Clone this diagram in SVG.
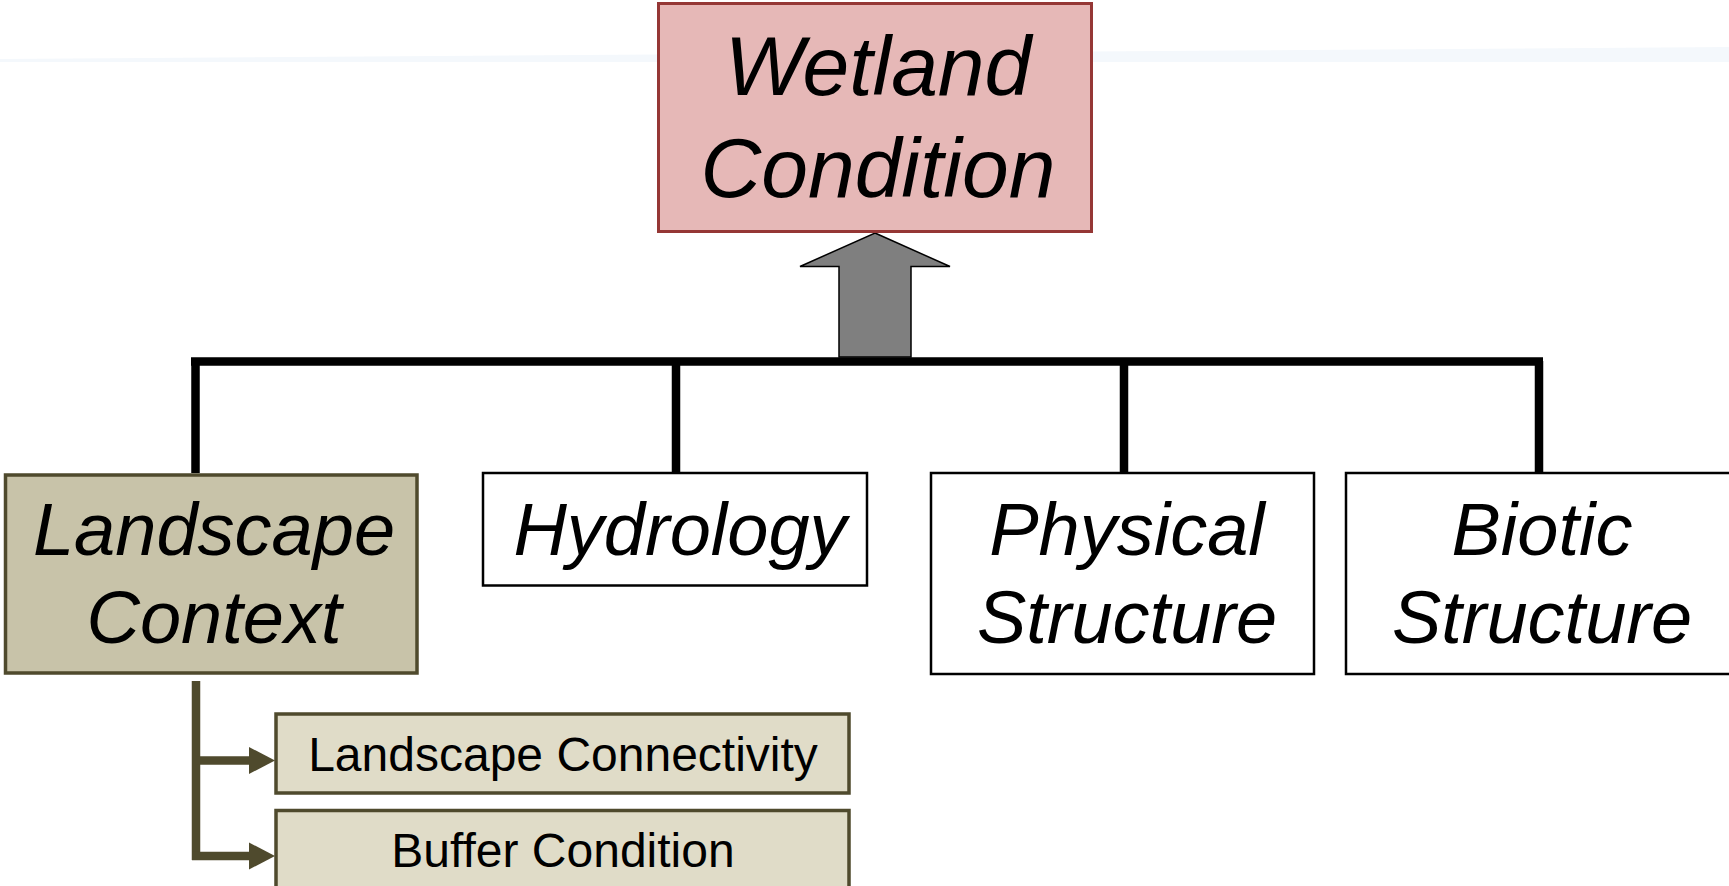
<svg xmlns="http://www.w3.org/2000/svg" width="1729" height="886" viewBox="0 0 1729 886">
<style>
.t{font-family:"Liberation Sans",Arial,sans-serif;fill:#000;text-anchor:middle}
.big{font-size:84px;font-style:italic}
.mid{font-size:74px;font-style:italic}
.sm{font-size:48px}
.wbox{fill:#fff;stroke:#000;stroke-width:2.5}
.sub{fill:#e0dcc8;stroke:#4f4a2d;stroke-width:3.5}
.tree{fill:none;stroke:#000;stroke-width:8.5}
.lc{fill:none;stroke:#4f4a2d;stroke-width:8.5}
</style>
<defs>
<marker id="ah" markerUnits="userSpaceOnUse" markerWidth="27" markerHeight="28" refX="0" refY="13.5" orient="auto" overflow="visible">
<path d="M0,0 L26,13.5 L0,27 Z" fill="#4f4a2d"/>
</marker>
</defs>
<rect x="0" y="0" width="1729" height="886" fill="#fff"/>
<polygon points="0,59 1729,47 1729,62 0,62" fill="#f4f8fc"/>
<g id="connectors">
<path class="tree" d="M191,361.5 H1543 M195.5,361 V473 M676,361 V473 M1124,361 V473 M1539,361 V473"/>
<polygon points="875,233 950,266.5 911,266.5 911,357 839,357 839,266.5 800,266.5" fill="#7f7f7f" stroke="#000" stroke-width="1.5" stroke-linejoin="miter"/>
<path class="lc" d="M196,681 V860" />
<path class="lc" d="M196,760.5 H249" marker-end="url(#ah)"/>
<path class="lc" d="M192,856 H249" marker-end="url(#ah)"/>
</g>
<g id="wetland-condition">
<rect x="658.5" y="3.5" width="433" height="228" fill="#e6b8b7" stroke="#953735" stroke-width="3"/>
<text class="t big" x="878" y="95">Wetland</text>
<text class="t big" x="878" y="197">Condition</text>
</g>
<g id="landscape-context">
<rect x="5.5" y="475" width="411.5" height="198" fill="#c8c3a9" stroke="#4f4a2d" stroke-width="3.5"/>
<text class="t mid" x="214" y="555">Landscape</text>
<text class="t mid" x="214" y="643">Context</text>
</g>
<g id="hydrology">
<rect class="wbox" x="483" y="473" width="384" height="112.5"/>
<text class="t mid" x="680" y="555">Hydrology</text>
</g>
<g id="physical-structure">
<rect class="wbox" x="931" y="473" width="383" height="201"/>
<text class="t mid" x="1127" y="555">Physical</text>
<text class="t mid" x="1127" y="643">Structure</text>
</g>
<g id="biotic-structure">
<rect class="wbox" x="1346" y="473" width="390" height="201"/>
<text class="t mid" x="1542" y="555">Biotic</text>
<text class="t mid" x="1542" y="643">Structure</text>
</g>
<g id="landscape-connectivity">
<rect class="sub" x="276" y="714" width="573" height="79"/>
<text class="t sm" x="563" y="771">Landscape Connectivity</text>
</g>
<g id="buffer-condition">
<rect class="sub" x="276" y="810.5" width="573" height="78"/>
<text class="t sm" x="563" y="867">Buffer Condition</text>
</g>
</svg>
